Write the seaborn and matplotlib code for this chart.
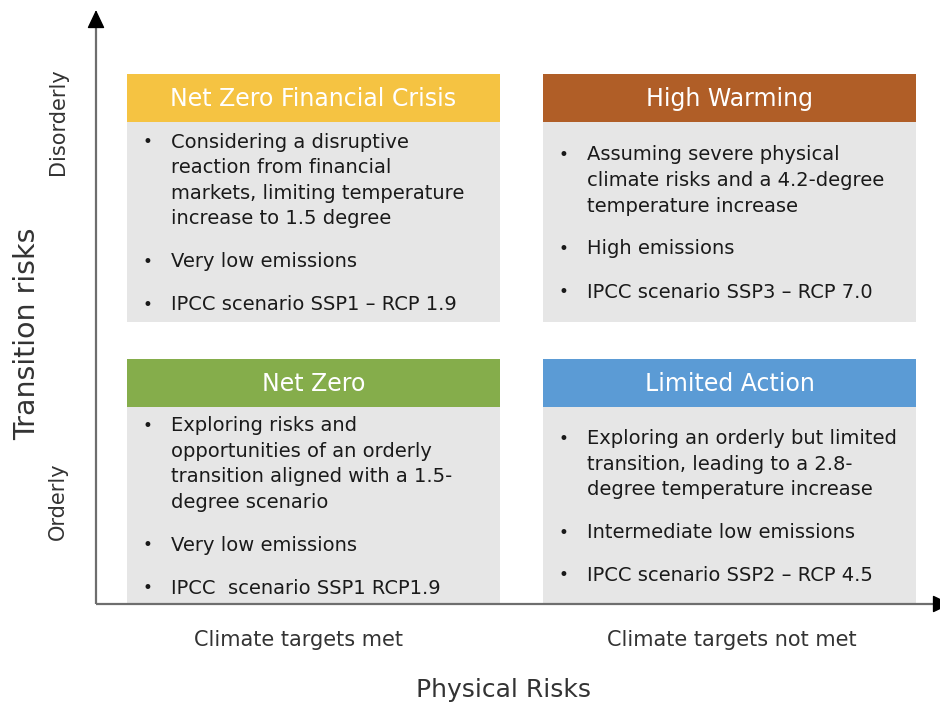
import matplotlib.pyplot as plt
from matplotlib.patches import Rectangle
import seaborn as sns

# Scenario quadrants
titles = ["Net Zero Financial Crisis", "High Warming", "Net Zero", "Limited Action"]
colors = ["#F5C342", "#B05E27", "#85AD4B", "#5B9BD5"]
cols = [0, 1, 0, 1]
rows = [1, 1, 0, 0]
bullets = [
    ["Considering a disruptive\nreaction from financial\nmarkets, limiting temperature\nincrease to 1.5 degree",
     "Very low emissions",
     "IPCC scenario SSP1 \u2013 RCP 1.9"],
    ["Assuming severe physical\nclimate risks and a 4.2-degree\ntemperature increase",
     "High emissions",
     "IPCC scenario SSP3 \u2013 RCP 7.0"],
    ["Exploring risks and\nopportunities of an orderly\ntransition aligned with a 1.5-\ndegree scenario",
     "Very low emissions",
     "IPCC  scenario SSP1 RCP1.9"],
    ["Exploring an orderly but limited\ntransition, leading to a 2.8-\ndegree temperature increase",
     "Intermediate low emissions",
     "IPCC scenario SSP2 \u2013 RCP 4.5"],
]
x_labels = ["Climate targets met", "Climate targets not met"]
y_labels = ["Orderly", "Disorderly"]
x_title = "Physical Risks"
y_title = "Transition risks"

sns.set_theme(style="white")
plt.rcParams['font.family'] = ['DejaVu Sans']

fig = plt.figure(figsize=(9.4, 7.02), dpi=100)
ax = fig.add_axes([0, 0, 1, 1])
ax.set_xlim(0, 940)
ax.set_ylim(702, 0)
ax.axis('off')

# layout (pixel units)
col_left = [127, 543]
box_w = 373
head_top = {1: 74, 0: 359}
head_h = 48
body_h = {1: 200, 0: 197}
line_gap = 25.5
para_gap = 17.5

for title, color, c, r, paras in zip(titles, colors, cols, rows, bullets):
    x0 = col_left[c]
    y0 = head_top[r]
    ax.add_patch(Rectangle((x0, y0), box_w, head_h, facecolor=color, edgecolor='none'))
    ax.add_patch(Rectangle((x0, y0 + head_h), box_w, body_h[r], facecolor='#E6E6E6', edgecolor='none'))
    ax.text(x0 + box_w / 2, y0 + head_h / 2 + 1, title, color='white', fontsize=17,
            ha='center', va='center')

    # vertically centred bullet block
    n_lines = sum(len(p.split('\n')) for p in paras)
    block = (n_lines - 1) * line_gap + (len(paras) - 1) * para_gap
    y = y0 + head_h + body_h[r] / 2 + 1.5 - block / 2
    for p in paras:
        ax.text(x0 + 20, y, "\u2022", fontsize=12, color='#1a1a1a', ha='center', va='center')
        for line in p.split('\n'):
            ax.text(x0 + 44, y, line, fontsize=14, color='#1a1a1a', ha='left', va='center')
            y += line_gap
        y += para_gap

# axes: grey lines with black heads, drawn over the boxes
ax.plot([96, 96], [604, 23], color='#6e6e6e', lw=1.6, zorder=5, solid_capstyle='butt')
ax.plot([96, 938], [604, 604], color='#6e6e6e', lw=1.6, zorder=5, solid_capstyle='butt')
head = dict(arrowstyle='-|>,head_length=0.95,head_width=0.45', color='black', lw=1,
            shrinkA=0, shrinkB=0)
ax.annotate('', xy=(96, 10), xytext=(96, 24), arrowprops=head, annotation_clip=False, zorder=6)
ax.annotate('', xy=(951, 604), xytext=(937, 604), arrowprops=head, annotation_clip=False, zorder=6)

# axis labels
x_shift = [-15, 2]
for i, lab in enumerate(x_labels):
    ax.text(col_left[i] + box_w / 2 + x_shift[i], 640, lab, fontsize=15, color='#333333',
            ha='center', va='center')
ax.text(58, 501, y_labels[0], fontsize=15, color='#333333', rotation=90, ha='center', va='center')
ax.text(58, 122, y_labels[1], fontsize=15, color='#333333', rotation=90, ha='center', va='center')
ax.text(503, 690, x_title, fontsize=18, color='#333333', ha='center', va='center')
ax.text(27, 334, y_title, fontsize=20.5, color='#333333', rotation=90, ha='center', va='center')

fig.savefig('out.png', dpi=100)
